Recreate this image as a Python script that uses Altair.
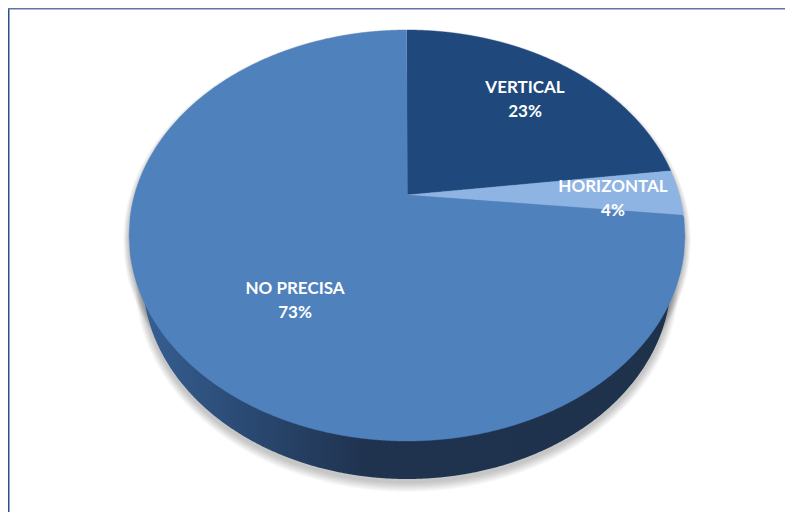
import numpy as np
import pandas as pd
import altair as alt

# --- chart values ---
categories = ["VERTICAL", "HORIZONTAL", "NO PRECISA"]
shares = [23.0, 3.6, 73.4]
pct_labels = ["23%", "4%", "73%"]
colors = ["#1F497D", "#8EB4E3", "#4F81BD"]

# --- styling / layout (page pixels) ---
label_x = [525, 613, 295]
label_y = [87.5, 186.5, 288.5]
line_gap = 24.5
APEX_X, APEX_Y = 407, 195
TOP, BOTTOM, HALF_W = 30, 441, 278
RIM_CY, RIM_RY, RIM_RX = 279, 200, 264
W, H = 777, 504

# perspective constants of the tilted disc
up, down = APEX_Y - TOP, BOTTOM - APEX_Y
k = (down - up) / (down + up)
b = up * (1 + k)
a = HALF_W * np.sqrt(1 - k * k)


def project(theta):
    u, v = np.sin(theta), np.cos(theta)
    d = 1 + k * v
    return APEX_X + a * u / d, APEX_Y - b * v / d


def band(px, py, n=500):
    """Vertical span of a closed polygon, sampled along x."""
    xs = np.linspace(px.min() + 1e-6, px.max() - 1e-6, n)
    lo, hi = [], []
    x0, y0, x1, y1 = px, py, np.roll(px, -1), np.roll(py, -1)
    for x in xs:
        m = (x0 - x) * (x1 - x) <= 0
        m &= x0 != x1
        ys = y0[m] + (x - x0[m]) * (y1[m] - y0[m]) / (x1[m] - x0[m])
        lo.append(ys.min())
        hi.append(ys.max())
    return xs, np.array(lo), np.array(hi)


x_scale = alt.Scale(domain=[8, 8 + W], range=[0, W], nice=False, zero=False)
y_scale = alt.Scale(domain=[8, 8 + H], range=[0, H], nice=False, zero=False)
X = alt.X("x:Q", scale=x_scale, axis=None)
Y = alt.Y("y:Q", scale=y_scale, axis=None)
Y2 = alt.Y2("y2:Q")


def area_df(px, py, **extra):
    xs, lo, hi = band(np.asarray(px), np.asarray(py))
    return pd.DataFrame(dict(x=xs, y=lo, y2=hi, **extra))


def ellipse(cx, cy, rx, ry, n=720):
    t = np.linspace(0, 2 * np.pi, n, endpoint=False)
    return cx + rx * np.cos(t), cy + ry * np.sin(t)


layers = []

# soft drop shadow
for e in range(1, 11):
    for cy, rx, ry in [(RIM_CY + 3, RIM_RX + e * 0.8, RIM_RY + e), (240, HALF_W + e * 0.6, 205 + e * 0.6)]:
        ex, ey = ellipse(APEX_X, cy, rx, ry)
        layers.append(
            alt.Chart(area_df(ex, ey)).mark_area(color="#000000", opacity=0.022, interpolate="linear")
            .encode(x=X, y=Y, y2=Y2)
        )

# side wall
cy_top = (TOP + BOTTOM) / 2
rx_, ry_ = ellipse(APEX_X, RIM_CY, RIM_RX, RIM_RY)
wall = area_df(rx_, ry_)
wall["y"] = cy_top
layers.append(
    alt.Chart(wall).mark_area(
        interpolate="linear",
        color=alt.LinearGradient(
            gradient="linear", x1=0, x2=1, y1=0, y2=0,
            stops=[
                alt.GradientStop(offset=0.0, color="#365F92"),
                alt.GradientStop(offset=0.16, color="#2C4D78"),
                alt.GradientStop(offset=0.42, color="#1F334F"),
                alt.GradientStop(offset=1.0, color="#1E324C"),
            ],
        ),
    ).encode(x=X, y=Y, y2=Y2)
)

# pie top: wedges run clockwise from 12 o'clock
total = sum(shares)
start = 0.0
for cat, share, col in zip(categories, shares, colors):
    t0 = start / total * 2 * np.pi
    t1 = (start + share) / total * 2 * np.pi
    start += share
    th = np.linspace(t0, t1, max(int(share * 12), 12))
    ax, ay = project(th)
    px = np.r_[APEX_X, ax]
    py = np.r_[APEX_Y, ay]
    layers.append(
        alt.Chart(area_df(px, py, cat=cat)).mark_area(
            interpolate="linear", color=col, stroke=col, strokeWidth=0.4
        ).encode(x=X, y=Y, y2=Y2)
    )

# labels
text_rows = []
for cat, pct, lx, ly in zip(categories, pct_labels, label_x, label_y):
    text_rows.append(dict(x=lx, y=ly, t=cat))
    text_rows.append(dict(x=lx, y=ly + line_gap, t=pct))
layers.append(
    alt.Chart(pd.DataFrame(text_rows)).mark_text(
        font="Lato", fontSize=17, fontWeight="bold", color="#FFFFFF", align="center", baseline="middle"
    ).encode(x=X, y=Y, text="t:N")
)

# frame lines
layers.append(
    alt.Chart(pd.DataFrame({"a": [0]})).mark_rule(color="#2F4E8C", strokeWidth=1.5)
    .encode(x=alt.value(0.75), y=alt.value(0), y2=alt.value(H))
)
layers.append(
    alt.Chart(pd.DataFrame({"a": [0]})).mark_rule(color="#5F74A8", strokeWidth=1.5)
    .encode(y=alt.value(0.75), x=alt.value(0), x2=alt.value(W))
)

chart = (
    alt.layer(*layers)
    .properties(width=W, height=H, padding=0, autosize=alt.AutoSizeParams(type="none"), background="#FFFFFF")
    .configure_view(stroke=None)
)
chart.save("out.html", embed_options={"renderer": "svg", "actions": False})
